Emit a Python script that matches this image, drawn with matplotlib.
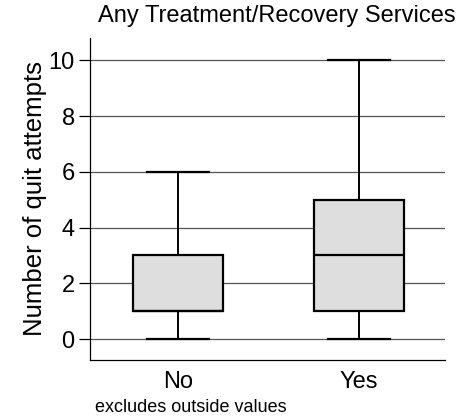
import matplotlib
matplotlib.use("Agg")
import matplotlib.pyplot as plt

plt.rcParams['font.family'] = ['Liberation Sans', 'DejaVu Sans']

# box plot summary values
groups = ["No", "Yes"]
whisker_lo = [0, 0]
q1 = [1, 1]
medians = [1, 3]
q3 = [3, 5]
whisker_hi = [6, 10]
yticks = [0, 2, 4, 6, 8, 10]

stats = []
for g, wl, a, m, b, wh in zip(groups, whisker_lo, q1, medians, q3, whisker_hi):
    stats.append(dict(label=g, whislo=wl, q1=a, med=m, q3=b, whishi=wh, fliers=[]))

fig = plt.figure(figsize=(4.70, 4.19), dpi=100)
ax = fig.add_axes([90 / 470, 1 - 360 / 419, 355 / 470, 322 / 419])

for y in yticks:
    ax.axhline(y, color="#555555", lw=0.9, zorder=0)

ax.bxp(stats, positions=[1, 2], widths=0.5, patch_artist=True, showfliers=False,
       boxprops=dict(facecolor="#dedede", edgecolor="black", lw=1.6),
       medianprops=dict(color="black", lw=1.6),
       whiskerprops=dict(color="black", lw=1.4),
       capprops=dict(color="black", lw=1.6),
       capwidths=0.34)

ax.set_xlim(0.514, 2.475)
ax.set_ylim(-0.75, 10.8)
ax.set_yticks(yticks)
ax.set_xticks([1, 2])
ax.set_xticklabels(groups)
ax.tick_params(axis="y", length=8, width=0.9, labelsize=17, pad=3)
ax.tick_params(axis="x", length=0, labelsize=17, pad=8)
ax.spines["top"].set_visible(False)
ax.spines["right"].set_visible(False)
for s in ("left", "bottom"):
    ax.spines[s].set_linewidth(0.9)
ax.set_ylabel("Number of quit attempts", fontsize=18.5, labelpad=1)

fig.text(277 / 470, 1 - 16 / 419, "Any Treatment/Recovery Services",
         ha="center", va="center", fontsize=17)
fig.text(95 / 470, 1 - 407 / 419, "excludes outside values",
         ha="left", va="center", fontsize=13)

fig.savefig("out.png", dpi=100)
